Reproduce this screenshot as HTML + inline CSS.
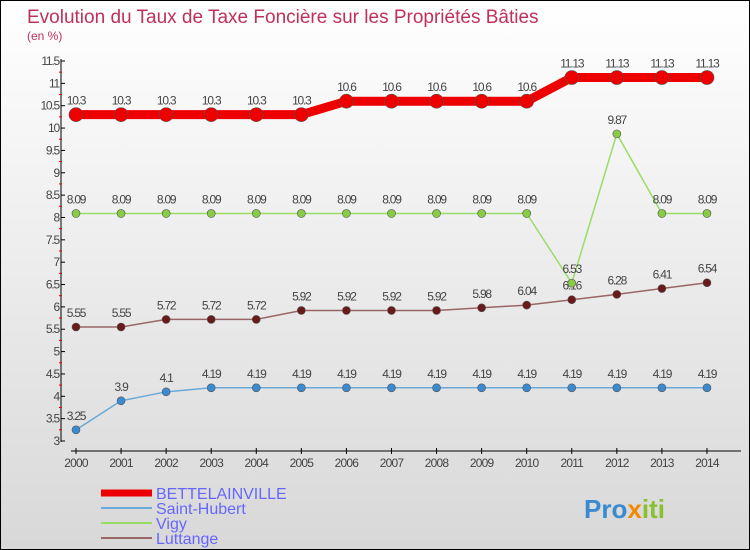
<!DOCTYPE html>
<html><head><meta charset="utf-8"><style>
body{margin:0}
#c{width:748px;height:548px;border:1px solid #000;background:linear-gradient(#fff,#d8d8d8);position:relative;font-family:"Liberation Sans",sans-serif;overflow:hidden}
</style></head><body>
<div id="c">
<svg id="s" width="748" height="548" style="position:absolute;left:0;top:0">
<text x="26" y="22" font-size="19" fill="#c0305a">Evolution du Taux de Taxe Foncière sur les Propriétés Bâties</text>
<text x="26" y="39" font-size="12" fill="#c0305a">(en %)</text>
<g id="axes"></g><g id="series"></g>
<g>
<line x1="100" y1="492" x2="151" y2="492" stroke="#e00" stroke-width="7"/>
<text x="155" y="498" font-size="16" fill="#66f">BETTELAINVILLE</text>
<line x1="100" y1="507" x2="151" y2="507" stroke="#6aaad8" stroke-width="2"/>
<text x="155" y="513" font-size="16" fill="#66f">Saint-Hubert</text>
<line x1="100" y1="522" x2="151" y2="522" stroke="#99dd66" stroke-width="2"/>
<text x="155" y="528" font-size="16" fill="#66f">Vigy</text>
<line x1="100" y1="537" x2="151" y2="537" stroke="#996666" stroke-width="2"/>
<text x="155" y="543" font-size="16" fill="#66f">Luttange</text>
</g>
<text x="583" y="517" font-size="26" font-weight="bold" fill="#3a8ad0">Pro<tspan fill="#f08a00">x</tspan><tspan fill="#88c030">iti</tspan></text>
</svg>
</div>
<script>
const years=[2000,2001,2002,2003,2004,2005,2006,2007,2008,2009,2010,2011,2012,2013,2014];
const bett=[10.3,10.3,10.3,10.3,10.3,10.3,10.6,10.6,10.6,10.6,10.6,11.13,11.13,11.13,11.13];
const sh=[3.25,3.9,4.1,4.19,4.19,4.19,4.19,4.19,4.19,4.19,4.19,4.19,4.19,4.19,4.19];
const vigy=[8.09,8.09,8.09,8.09,8.09,8.09,8.09,8.09,8.09,8.09,8.09,6.53,9.87,8.09,8.09];
const lut=[5.55,5.55,5.72,5.72,5.72,5.92,5.92,5.92,5.92,5.98,6.04,6.16,6.28,6.41,6.54];
const yTicks=[3,3.5,4,4.5,5,5.5,6,6.5,7,7.5,8,8.5,9,9.5,10,10.5,11,11.5];
const NS="http://www.w3.org/2000/svg";
const X=i=>75+i*45.07, Y=v=>440-(v-3)*(380/8.5);
function mk(t,a,p){const e=document.createElementNS(NS,t);for(const k in a)e.setAttribute(k,a[k]);p.appendChild(e);return e;}
const ax=document.getElementById('axes'),sg=document.getElementById('series');
let yl=mk('line',{x1:60,y1:58,x2:60,y2:441,stroke:'#000'},ax);

yTicks.forEach(v=>{mk('line',{x1:60,y1:Y(v),x2:64,y2:Y(v),stroke:'#000'},ax);
 if(v<11.5)mk('line',{x1:58,y1:Y(v)-11.2,x2:61,y2:Y(v)-11.2,stroke:'#e00'},ax);
 const t=mk('text',{x:58,y:Y(v)+4,'font-size':12,fill:'#444','text-anchor':'end','letter-spacing':'-1.2'},ax);t.textContent=v;
 });
let xl=mk('line',{x1:70,y1:450,x2:740,y2:450,stroke:'#000'},ax);

years.forEach((y,i)=>{mk('line',{x1:X(i),y1:447,x2:X(i),y2:453,stroke:'#000'},ax);
 const t=mk('text',{x:X(i),y:466,'font-size':12,fill:'#444','text-anchor':'middle','letter-spacing':'-0.8'},ax);t.textContent=y;
 });
function series(d,name,col,w,r,dot){
 const g=mk('g',{},sg);
 mk('polyline',{points:d.map((v,i)=>X(i)+','+Y(v)).join(' '),fill:'none',stroke:col,'stroke-width':w},g);
 d.forEach((v,i)=>{const c=mk('circle',{cx:X(i),cy:Y(v),r:r,fill:dot,stroke:'#555','stroke-width':0.6},g);
  
  const t=mk('text',{x:X(i),y:Y(v)-10,'font-size':12,fill:'#444','text-anchor':'middle','letter-spacing':'-1.2'},g);t.textContent=v;
  });
}
series(sh,'saint-hubert-series','#6aaad8',1.5,4,'#3a8ad0');
series(lut,'luttange-series','#996666',1.5,4,'#6a1a1a');
series(vigy,'vigy-series','#99dd66',1.5,4,'#88cc44');
series(bett,'bettelainville-series','#e00',9,7,'#e00');
</script>
</body></html>
